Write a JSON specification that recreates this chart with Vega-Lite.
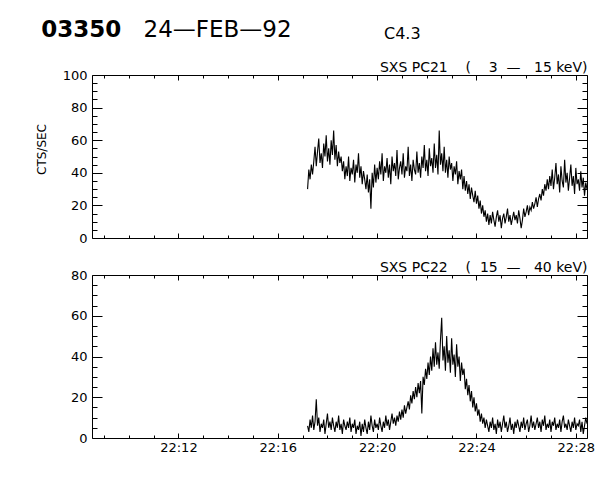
{
 "$schema": "https://vega.github.io/schema/vega-lite/v6.json",
 "background": "white",
 "padding": {"left": 35, "top": 18, "right": 5, "bottom": 5},
 "bounds": "flush",
 "spacing": 37,
 "title": {"text": "03350", "subtitle": "\u200b\u00a0\u00a0\u00a0\u00a0\u00a0\u00a0\u00a0\u00a0\u00a0\u00a0\u00a0\u00a0\u00a0\u00a024—FEB—92", "anchor": "start", "frame": "bounds", "dx": 6, "offset": -16, "font": "DejaVu Sans", "fontSize": 23, "fontWeight": "bold", "color": "black", "subtitleFont": "DejaVu Sans", "subtitleFontSize": 23, "subtitleFontWeight": "normal", "subtitleColor": "black", "subtitlePadding": -23},
 "datasets": {"d": [
{"t":17.2,"a":30,"b":6},{"t":17.25,"a":42,"b":3},{"t":17.3,"a":36,"b":9},{"t":17.35,"a":45,"b":5},{"t":17.4,"a":39,"b":11},
{"t":17.45,"a":47,"b":4},{"t":17.5,"a":56,"b":8},{"t":17.55,"a":44,"b":19},{"t":17.6,"a":53,"b":6},{"t":17.65,"a":61,"b":10},
{"t":17.7,"a":46,"b":3},{"t":17.75,"a":52,"b":7},{"t":17.8,"a":43,"b":5},{"t":17.85,"a":58,"b":9},{"t":17.9,"a":50,"b":2},
{"t":17.95,"a":63,"b":7},{"t":18.0,"a":47,"b":12},{"t":18.05,"a":55,"b":5},{"t":18.1,"a":45,"b":8},{"t":18.15,"a":60,"b":4},
{"t":18.2,"a":51,"b":10},{"t":18.25,"a":66,"b":6},{"t":18.3,"a":48,"b":3},{"t":18.35,"a":57,"b":8},{"t":18.4,"a":44,"b":5},
{"t":18.45,"a":53,"b":11},{"t":18.5,"a":46,"b":4},{"t":18.55,"a":50,"b":7},{"t":18.6,"a":41,"b":2},{"t":18.65,"a":47,"b":9},
{"t":18.7,"a":36,"b":6},{"t":18.75,"a":44,"b":4},{"t":18.8,"a":38,"b":8},{"t":18.85,"a":50,"b":5},{"t":18.9,"a":35,"b":10},
{"t":18.95,"a":43,"b":3},{"t":19.0,"a":39,"b":7},{"t":19.05,"a":48,"b":5},{"t":19.1,"a":34,"b":9},{"t":19.15,"a":45,"b":2},
{"t":19.2,"a":40,"b":6},{"t":19.25,"a":52,"b":4},{"t":19.3,"a":37,"b":8},{"t":19.35,"a":44,"b":1},{"t":19.4,"a":33,"b":7},
{"t":19.45,"a":41,"b":3},{"t":19.5,"a":36,"b":9},{"t":19.55,"a":30,"b":5},{"t":19.6,"a":39,"b":2},{"t":19.65,"a":28,"b":8},
{"t":19.7,"a":36,"b":4},{"t":19.75,"a":18,"b":11},{"t":19.8,"a":40,"b":6},{"t":19.85,"a":31,"b":3},{"t":19.9,"a":45,"b":9},
{"t":19.95,"a":34,"b":5},{"t":20.0,"a":43,"b":7},{"t":20.05,"a":36,"b":4},{"t":20.1,"a":47,"b":10},{"t":20.15,"a":39,"b":6},
{"t":20.2,"a":52,"b":3},{"t":20.25,"a":35,"b":8},{"t":20.3,"a":44,"b":5},{"t":20.35,"a":40,"b":11},{"t":20.4,"a":49,"b":6},
{"t":20.45,"a":37,"b":9},{"t":20.5,"a":45,"b":4},{"t":20.55,"a":33,"b":8},{"t":20.6,"a":50,"b":12},{"t":20.65,"a":41,"b":7},
{"t":20.7,"a":46,"b":10},{"t":20.75,"a":38,"b":6},{"t":20.8,"a":54,"b":11},{"t":20.85,"a":36,"b":8},{"t":20.9,"a":43,"b":13},
{"t":20.95,"a":47,"b":9},{"t":21.0,"a":39,"b":14},{"t":21.05,"a":52,"b":10},{"t":21.1,"a":37,"b":16},{"t":21.15,"a":44,"b":12},
{"t":21.2,"a":41,"b":15},{"t":21.25,"a":56,"b":18},{"t":21.3,"a":38,"b":14},{"t":21.35,"a":45,"b":21},{"t":21.4,"a":35,"b":17},
{"t":21.45,"a":48,"b":23},{"t":21.5,"a":42,"b":19},{"t":21.55,"a":39,"b":25},{"t":21.6,"a":53,"b":20},{"t":21.65,"a":40,"b":27},
{"t":21.7,"a":46,"b":22},{"t":21.75,"a":37,"b":28},{"t":21.8,"a":50,"b":12},{"t":21.85,"a":43,"b":30},{"t":21.9,"a":57,"b":26},
{"t":21.95,"a":41,"b":34},{"t":22.0,"a":48,"b":29},{"t":22.05,"a":38,"b":37},{"t":22.1,"a":55,"b":31},{"t":22.15,"a":44,"b":40},
{"t":22.2,"a":49,"b":33},{"t":22.25,"a":40,"b":44},{"t":22.3,"a":58,"b":35},{"t":22.35,"a":43,"b":47},{"t":22.4,"a":51,"b":36},
{"t":22.45,"a":39,"b":42},{"t":22.5,"a":66,"b":34},{"t":22.55,"a":45,"b":48},{"t":22.6,"a":52,"b":59},{"t":22.65,"a":41,"b":38},
{"t":22.7,"a":56,"b":45},{"t":22.75,"a":40,"b":33},{"t":22.8,"a":48,"b":50},{"t":22.85,"a":37,"b":37},{"t":22.9,"a":50,"b":43},
{"t":22.95,"a":42,"b":32},{"t":23.0,"a":46,"b":49},{"t":23.05,"a":35,"b":36},{"t":23.1,"a":44,"b":41},{"t":23.15,"a":39,"b":30},
{"t":23.2,"a":47,"b":46},{"t":23.25,"a":33,"b":35},{"t":23.3,"a":41,"b":40},{"t":23.35,"a":36,"b":28},{"t":23.4,"a":42,"b":37},
{"t":23.45,"a":30,"b":31},{"t":23.5,"a":38,"b":34},{"t":23.55,"a":29,"b":24},{"t":23.6,"a":35,"b":29},{"t":23.65,"a":27,"b":21},
{"t":23.7,"a":33,"b":26},{"t":23.75,"a":24,"b":18},{"t":23.8,"a":31,"b":23},{"t":23.85,"a":26,"b":15},{"t":23.9,"a":22,"b":20},
{"t":23.95,"a":29,"b":13},{"t":24.0,"a":21,"b":17},{"t":24.05,"a":26,"b":11},{"t":24.1,"a":18,"b":14},{"t":24.15,"a":23,"b":8},
{"t":24.2,"a":15,"b":12},{"t":24.25,"a":20,"b":7},{"t":24.3,"a":13,"b":10},{"t":24.35,"a":17,"b":5},{"t":24.4,"a":10,"b":9},
{"t":24.45,"a":15,"b":6},{"t":24.5,"a":8,"b":3},{"t":24.55,"a":14,"b":8},{"t":24.6,"a":9,"b":5},{"t":24.65,"a":16,"b":10},
{"t":24.7,"a":11,"b":4},{"t":24.75,"a":7,"b":7},{"t":24.8,"a":13,"b":2},{"t":24.85,"a":17,"b":9},{"t":24.9,"a":10,"b":5},
{"t":24.95,"a":14,"b":8},{"t":25.0,"a":6,"b":3},{"t":25.05,"a":12,"b":7},{"t":25.1,"a":15,"b":11},{"t":25.15,"a":9,"b":5},
{"t":25.2,"a":13,"b":8},{"t":25.25,"a":18,"b":3},{"t":25.3,"a":10,"b":6},{"t":25.35,"a":14,"b":10},{"t":25.4,"a":8,"b":4},
{"t":25.45,"a":12,"b":7},{"t":25.5,"a":16,"b":2},{"t":25.55,"a":11,"b":8},{"t":25.6,"a":14,"b":5},{"t":25.65,"a":9,"b":9},
{"t":25.7,"a":17,"b":6},{"t":25.75,"a":12,"b":3},{"t":25.8,"a":6,"b":8},{"t":25.85,"a":11,"b":5},{"t":25.9,"a":18,"b":10},
{"t":25.95,"a":13,"b":4},{"t":26.0,"a":16,"b":7},{"t":26.05,"a":20,"b":9},{"t":26.1,"a":14,"b":3},{"t":26.15,"a":19,"b":6},
{"t":26.2,"a":17,"b":11},{"t":26.25,"a":22,"b":5},{"t":26.3,"a":18,"b":8},{"t":26.35,"a":21,"b":4},{"t":26.4,"a":25,"b":7},
{"t":26.45,"a":19,"b":10},{"t":26.5,"a":24,"b":5},{"t":26.55,"a":27,"b":8},{"t":26.6,"a":23,"b":3},{"t":26.65,"a":30,"b":9},
{"t":26.7,"a":26,"b":6},{"t":26.75,"a":33,"b":11},{"t":26.8,"a":29,"b":4},{"t":26.85,"a":36,"b":7},{"t":26.9,"a":30,"b":5},
{"t":26.95,"a":38,"b":9},{"t":27.0,"a":32,"b":3},{"t":27.05,"a":42,"b":8},{"t":27.1,"a":30,"b":6},{"t":27.15,"a":37,"b":10},
{"t":27.2,"a":46,"b":4},{"t":27.25,"a":33,"b":7},{"t":27.3,"a":39,"b":5},{"t":27.35,"a":28,"b":9},{"t":27.4,"a":44,"b":3},
{"t":27.45,"a":35,"b":8},{"t":27.5,"a":31,"b":11},{"t":27.55,"a":48,"b":5},{"t":27.6,"a":34,"b":7},{"t":27.65,"a":40,"b":4},
{"t":27.7,"a":29,"b":9},{"t":27.75,"a":37,"b":6},{"t":27.8,"a":45,"b":3},{"t":27.85,"a":32,"b":8},{"t":27.9,"a":38,"b":5},
{"t":27.95,"a":27,"b":10},{"t":28.0,"a":43,"b":4},{"t":28.05,"a":33,"b":7},{"t":28.1,"a":36,"b":6},{"t":28.15,"a":29,"b":9},
{"t":28.2,"a":41,"b":3},{"t":28.25,"a":31,"b":8},{"t":28.3,"a":37,"b":2},{"t":28.35,"a":26,"b":6},{"t":28.4,"a":34,"b":10},
{"t":28.45,"a":30,"b":7}
 ]},
 "vconcat": [
  {
   "width": 495, "height": 163,
   "title": {"text": "C4.3", "anchor": "start", "frame": "group", "dx": 292, "offset": 19, "font": "DejaVu Sans", "fontSize": 16, "fontWeight": "normal", "color": "black"},
   "data": {"name": "d"},
   "layer": [
    {"mark": {"type": "line", "color": "black", "strokeWidth": 1.1},
     "encoding": {
      "x": {"field": "t", "type": "quantitative", "scale": {"domain": [8.52, 28.45], "nice": false, "zero": false},
            "axis": {"orient": "bottom", "values": [9,10,11,12,13,14,15,16,17,18,19,20,21,22,23,24,25,26,27,28], "labels": false, "title": null,
                     "tickSize": {"condition": {"test": "datum.value % 4 === 0", "value": -5}, "value": -3}}},
      "y": {"field": "a", "type": "quantitative", "scale": {"domain": [0, 100], "nice": false},
            "axis": {"orient": "left", "values": [0,5,10,15,20,25,30,35,40,45,50,55,60,65,70,75,80,85,90,95,100],
                     "labelExpr": "datum.value % 20 === 0 ? datum.label : ''", "labelOverlap": false, "labelFlush": false,
                     "tickSize": {"condition": {"test": "datum.value % 20 === 0", "value": -10}, "value": -5},
                     "labelPadding": 15, "title": "CTS/SEC", "titlePadding": 14, "titleFontSize": 12, "titleY": 74}}
     }},
    {"mark": {"type": "line", "strokeOpacity": 0},
     "encoding": {
      "x": {"field": "t", "type": "quantitative",
            "axis": {"orient": "top", "values": [9,10,11,12,13,14,15,16,17,18,19,20,21,22,23,24,25,26,27,28], "labels": false,
                     "tickSize": {"condition": {"test": "datum.value % 4 === 0", "value": -5}, "value": -3},
                     "title": "SXS PC21\u00a0\u00a0\u00a0\u00a0(\u00a0\u00a0\u00a0\u00a03\u00a0\u00a0—\u00a0\u00a0\u00a015 keV)", "titleAnchor": "end", "titlePadding": 0, "titleFontSize": 14}},
      "y": {"field": "a", "type": "quantitative",
            "axis": {"orient": "right", "values": [0,5,10,15,20,25,30,35,40,45,50,55,60,65,70,75,80,85,90,95,100], "labels": false, "title": null,
                     "tickSize": {"condition": {"test": "datum.value % 20 === 0", "value": -10}, "value": -5}}}
     }}
   ],
   "resolve": {"axis": {"x": "independent", "y": "independent"}}
  },
  {
   "width": 495, "height": 163,
   "data": {"name": "d"},
   "layer": [
    {"mark": {"type": "line", "color": "black", "strokeWidth": 1.1},
     "encoding": {
      "x": {"field": "t", "type": "quantitative", "scale": {"domain": [8.52, 28.45], "nice": false, "zero": false},
            "axis": {"orient": "bottom", "values": [9,10,11,12,13,14,15,16,17,18,19,20,21,22,23,24,25,26,27,28], "title": null,
                     "labelExpr": "datum.value % 4 === 0 && datum.value >= 12 ? '22:' + datum.value : ''", "labelOverlap": false, "labelFlush": false,
                     "labelPadding": 8,
                     "tickSize": {"condition": {"test": "datum.value % 4 === 0", "value": -5}, "value": -3}}},
      "y": {"field": "b", "type": "quantitative", "scale": {"domain": [0, 80], "nice": false},
            "axis": {"orient": "left", "values": [0,5,10,15,20,25,30,35,40,45,50,55,60,65,70,75,80],
                     "labelExpr": "datum.value % 20 === 0 ? datum.label : ''", "labelOverlap": false, "labelFlush": false,
                     "tickSize": {"condition": {"test": "datum.value % 20 === 0", "value": -10}, "value": -5},
                     "labelPadding": 15, "title": null}}
     }},
    {"mark": {"type": "line", "strokeOpacity": 0},
     "encoding": {
      "x": {"field": "t", "type": "quantitative",
            "axis": {"orient": "top", "values": [9,10,11,12,13,14,15,16,17,18,19,20,21,22,23,24,25,26,27,28], "labels": false,
                     "tickSize": {"condition": {"test": "datum.value % 4 === 0", "value": -5}, "value": -3},
                     "title": "SXS PC22\u00a0\u00a0\u00a0\u00a0(\u00a0\u00a015\u00a0\u00a0—\u00a0\u00a0\u00a040 keV)", "titleAnchor": "end", "titlePadding": 0, "titleFontSize": 14}},
      "y": {"field": "b", "type": "quantitative",
            "axis": {"orient": "right", "values": [0,5,10,15,20,25,30,35,40,45,50,55,60,65,70,75,80], "labels": false, "title": null,
                     "tickSize": {"condition": {"test": "datum.value % 20 === 0", "value": -10}, "value": -5}}}
     }}
   ],
   "resolve": {"axis": {"x": "independent", "y": "independent"}}
  }
 ],
 "config": {
  "view": {"stroke": null},
  "axis": {"grid": false, "domainColor": "black", "tickColor": "black", "labelColor": "black", "titleColor": "black",
           "labelFont": "DejaVu Sans", "labelFontSize": 13, "titleFont": "DejaVu Sans", "titleFontWeight": "normal", "domainWidth": 1, "tickWidth": 1}
 }
}
